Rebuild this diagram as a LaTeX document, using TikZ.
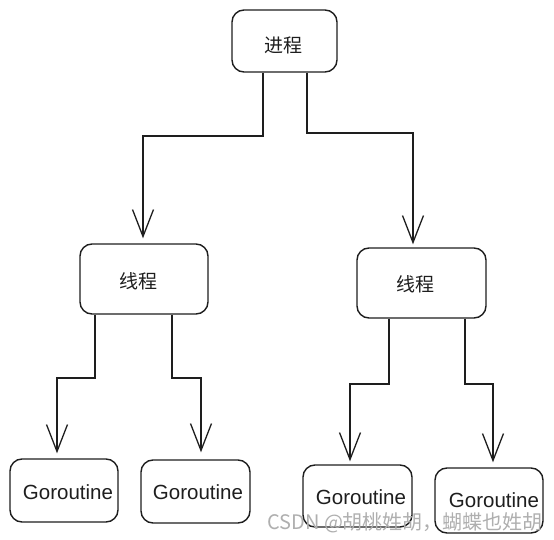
\documentclass[tikz,border=0pt]{standalone}
\usepackage{fontspec}
\setmainfont{Liberation Sans}
\newfontfamily\cjk{Noto Sans CJK SC}
\usetikzlibrary{arrows.meta}
\definecolor{ink}{RGB}{30,30,30}
\definecolor{wm}{RGB}{175,175,175}
\tikzset{
  box/.style={draw=ink, line width=1.4pt, rounded corners=12pt, fill=white, inner sep=0pt},
  cn/.style={font=\cjk\fontsize{19}{22}\selectfont, text=ink},
  gr/.style={font=\fontsize{20.5}{23}\selectfont, text=ink},
  arr/.style={draw=ink, line width=1.3pt, -{Straight Barb[length=27pt, width=21pt, line width=1.3pt]}},
}
\begin{document}
\begin{tikzpicture}[x=1pt, y=-1pt]
\useasboundingbox (0,0) rectangle (554,540);
% boxes
\node[box, minimum width=105pt, minimum height=62pt] (root) at (284.5,41) {};
\node[cn] (troot) at (283,45) {进程};
\node[box, minimum width=128pt, minimum height=70pt] (L) at (144,279) {};
\node[cn] (tL) at (138,281) {线程};
\node[box, minimum width=129pt, minimum height=70pt] (R) at (421.5,283) {};
\node[cn] (tR) at (415,284) {线程};
\node[box, minimum width=108pt, minimum height=63pt] (G1) at (64,490.5) {};
\node[gr] at (68,492) {Goroutine};
\node[box, minimum width=109pt, minimum height=63pt] (G2) at (195.5,491.5) {};
\node[gr] at (198,492) {Goroutine};
\node[box, minimum width=109pt, minimum height=62pt] (G3) at (357.5,496) {};
\node[gr] at (361,497) {Goroutine};
\node[box, minimum width=108pt, minimum height=65pt] (G4) at (489,500.5) {};
\node[gr] at (494,500) {Goroutine};
% connectors
\draw[arr, shorten >=5pt] (root.south -| 263,0) -- (263,136) -- (143,136) -- (L.north -| 143,0);
\draw[arr, shorten >=3pt] (root.south -| 307,0) -- (307,133) -- (413,133) -- (R.north -| 413,0);
\draw[arr, shorten >=5pt] (L.south -| 95,0) -- (95,378) -- (57,378) -- (G1.north -| 57,0);
\draw[arr, shorten >=7pt] (L.south -| 172,0) -- (172,378) -- (201,378) -- (G2.north -| 201,0);
\draw[arr, shorten >=3pt] (R.south -| 389,0) -- (389,384) -- (350,384) -- (G3.north -| 350,0);
\draw[arr, shorten >=5pt] (R.south -| 465,0) -- (465,384) -- (493,384) -- (G4.north -| 493,0);
% watermark
\node[font=\cjk\fontsize{20}{23}\selectfont, text=wm, anchor=base west, inner sep=0pt] (wmk) at (267,529) {CSDN @胡桃姓胡，蝴蝶也姓胡};
\end{tikzpicture}
\end{document}
